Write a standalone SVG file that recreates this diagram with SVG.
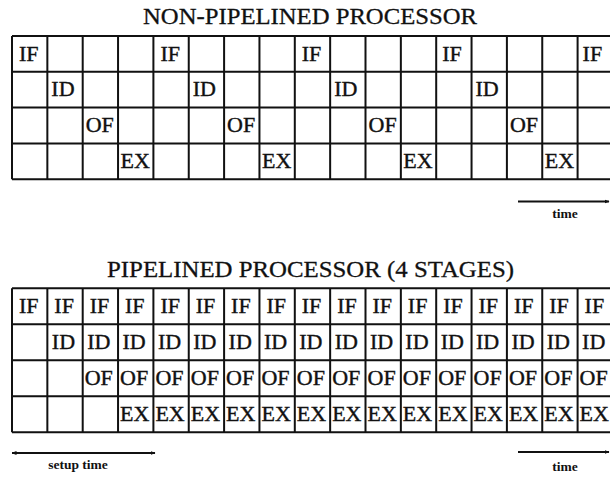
<svg xmlns="http://www.w3.org/2000/svg" width="610" height="479" viewBox="0 0 610 479">
<style>
.title{font-family:"Liberation Serif","Times New Roman",serif;font-size:24px;fill:#111;stroke:#111;stroke-width:0.3}
.lbl{font-family:"Liberation Serif","Times New Roman",serif;font-size:22px;fill:#111;stroke:#111;stroke-width:0.4}
.note{font-family:"Liberation Serif","Times New Roman",serif;font-size:13.5px;font-weight:bold;fill:#111}
.grid{fill:none;stroke:#111;stroke-width:2}
.arr{fill:none;stroke:#111;stroke-width:2}
</style>
<defs>
<marker id="ah" viewBox="0 0 10 10" refX="9" refY="5" markerWidth="5" markerHeight="5" markerUnits="userSpaceOnUse" orient="auto-start-reverse">
<path d="M0,1 L10,5 L0,9 Z" fill="#111"/>
</marker>
</defs>
<rect width="610" height="479" fill="#fff"/>

<g id="title-top"><text class="title" x="143" y="24" textLength="334" lengthAdjust="spacingAndGlyphs">NON-PIPELINED PROCESSOR</text></g>

<g id="grid-top">
<path class="grid" d="M12,36 H615 M12,71.8 H615 M12,107.6 H615 M12,143.4 H615 M12,179.2 H615
M12,36 V179.2 M47.35,36 V179.2 M82.7,36 V179.2 M118.05,36 V179.2 M153.4,36 V179.2 M188.75,36 V179.2 M224.1,36 V179.2 M259.45,36 V179.2 M294.8,36 V179.2 M330.15,36 V179.2 M365.5,36 V179.2 M400.85,36 V179.2 M436.2,36 V179.2 M471.55,36 V179.2 M506.9,36 V179.2 M542.25,36 V179.2 M577.6,36 V179.2"/>
<g id="top-if">
<text class="lbl" x="19" y="60.5">IF</text>
<text class="lbl" x="160.4" y="60.5">IF</text>
<text class="lbl" x="301.8" y="60.5">IF</text>
<text class="lbl" x="442.2" y="60.5">IF</text>
<text class="lbl" x="582.6" y="60.5">IF</text>
</g>
<g id="top-id">
<text class="lbl" x="51.35" y="96.3">ID</text>
<text class="lbl" x="192.75" y="96.3">ID</text>
<text class="lbl" x="334.15" y="96.3">ID</text>
<text class="lbl" x="475.55" y="96.3">ID</text>
</g>
<g id="top-of">
<text class="lbl" x="85.7" y="132.1">OF</text>
<text class="lbl" x="227.1" y="132.1">OF</text>
<text class="lbl" x="368.5" y="132.1">OF</text>
<text class="lbl" x="509.9" y="132.1">OF</text>
</g>
<g id="top-ex">
<text class="lbl" x="120.55" y="167.9">EX</text>
<text class="lbl" x="261.95" y="167.9">EX</text>
<text class="lbl" x="403.35" y="167.9">EX</text>
<text class="lbl" x="544.75" y="167.9">EX</text>
</g>
</g>

<g id="time-top">
<text class="note" x="565" y="218" text-anchor="middle">time</text>
</g>

<g id="title-bottom"><text class="title" x="107" y="277" textLength="407" lengthAdjust="spacingAndGlyphs">PIPELINED PROCESSOR (4 STAGES)</text></g>

<g id="grid-bottom">
<path class="grid" d="M12,288.3 H615 M12,324.3 H615 M12,360.3 H615 M12,396.3 H615 M12,432.3 H615
M12,288.3 V432.3 M47.35,288.3 V432.3 M82.7,288.3 V432.3 M118.05,288.3 V432.3 M153.4,288.3 V432.3 M188.75,288.3 V432.3 M224.1,288.3 V432.3 M259.45,288.3 V432.3 M294.8,288.3 V432.3 M330.15,288.3 V432.3 M365.5,288.3 V432.3 M400.85,288.3 V432.3 M436.2,288.3 V432.3 M471.55,288.3 V432.3 M506.9,288.3 V432.3 M542.25,288.3 V432.3 M577.6,288.3 V432.3"/>
<g id="bot-if">
<text class="lbl" x="19" y="313.3">IF</text>
<text class="lbl" x="54.35" y="313.3">IF</text>
<text class="lbl" x="89.7" y="313.3">IF</text>
<text class="lbl" x="125.05" y="313.3">IF</text>
<text class="lbl" x="160.4" y="313.3">IF</text>
<text class="lbl" x="195.75" y="313.3">IF</text>
<text class="lbl" x="231.1" y="313.3">IF</text>
<text class="lbl" x="266.45" y="313.3">IF</text>
<text class="lbl" x="301.8" y="313.3">IF</text>
<text class="lbl" x="337.15" y="313.3">IF</text>
<text class="lbl" x="372.5" y="313.3">IF</text>
<text class="lbl" x="407.85" y="313.3">IF</text>
<text class="lbl" x="443.2" y="313.3">IF</text>
<text class="lbl" x="478.55" y="313.3">IF</text>
<text class="lbl" x="513.9" y="313.3">IF</text>
<text class="lbl" x="549.25" y="313.3">IF</text>
<text class="lbl" x="584.6" y="313.3">IF</text>
</g>
<g id="bot-id">
<text class="lbl" x="51.85" y="349.3">ID</text>
<text class="lbl" x="87.2" y="349.3">ID</text>
<text class="lbl" x="122.55" y="349.3">ID</text>
<text class="lbl" x="157.9" y="349.3">ID</text>
<text class="lbl" x="193.25" y="349.3">ID</text>
<text class="lbl" x="228.6" y="349.3">ID</text>
<text class="lbl" x="263.95" y="349.3">ID</text>
<text class="lbl" x="299.3" y="349.3">ID</text>
<text class="lbl" x="334.65" y="349.3">ID</text>
<text class="lbl" x="370" y="349.3">ID</text>
<text class="lbl" x="405.35" y="349.3">ID</text>
<text class="lbl" x="440.7" y="349.3">ID</text>
<text class="lbl" x="476.05" y="349.3">ID</text>
<text class="lbl" x="511.4" y="349.3">ID</text>
<text class="lbl" x="546.75" y="349.3">ID</text>
<text class="lbl" x="582.1" y="349.3">ID</text>
</g>
<g id="bot-of">
<text class="lbl" x="84.7" y="385.3">OF</text>
<text class="lbl" x="120.05" y="385.3">OF</text>
<text class="lbl" x="155.4" y="385.3">OF</text>
<text class="lbl" x="190.75" y="385.3">OF</text>
<text class="lbl" x="226.1" y="385.3">OF</text>
<text class="lbl" x="261.45" y="385.3">OF</text>
<text class="lbl" x="296.8" y="385.3">OF</text>
<text class="lbl" x="332.15" y="385.3">OF</text>
<text class="lbl" x="367.5" y="385.3">OF</text>
<text class="lbl" x="402.85" y="385.3">OF</text>
<text class="lbl" x="438.2" y="385.3">OF</text>
<text class="lbl" x="473.55" y="385.3">OF</text>
<text class="lbl" x="508.9" y="385.3">OF</text>
<text class="lbl" x="544.25" y="385.3">OF</text>
<text class="lbl" x="579.6" y="385.3">OF</text>
</g>
<g id="bot-ex">
<text class="lbl" x="120.05" y="421.3">EX</text>
<text class="lbl" x="155.4" y="421.3">EX</text>
<text class="lbl" x="190.75" y="421.3">EX</text>
<text class="lbl" x="226.1" y="421.3">EX</text>
<text class="lbl" x="261.45" y="421.3">EX</text>
<text class="lbl" x="296.8" y="421.3">EX</text>
<text class="lbl" x="332.15" y="421.3">EX</text>
<text class="lbl" x="367.5" y="421.3">EX</text>
<text class="lbl" x="402.85" y="421.3">EX</text>
<text class="lbl" x="438.2" y="421.3">EX</text>
<text class="lbl" x="473.55" y="421.3">EX</text>
<text class="lbl" x="508.9" y="421.3">EX</text>
<text class="lbl" x="544.25" y="421.3">EX</text>
<text class="lbl" x="579.6" y="421.3">EX</text>
</g>
</g>

<g id="setup-label"><text class="note" x="78" y="469" text-anchor="middle">setup time</text></g>
<g id="time-bottom"><text class="note" x="565" y="471" text-anchor="middle">time</text></g>

<g id="connectors">
<line class="arr" x1="518" y1="201.5" x2="609" y2="201.5" marker-end="url(#ah)"/>
<line class="arr" x1="12" y1="453" x2="155" y2="453" marker-start="url(#ah)" marker-end="url(#ah)"/>
<line class="arr" x1="518" y1="452" x2="609" y2="452" marker-end="url(#ah)"/>
</g>
</svg>
